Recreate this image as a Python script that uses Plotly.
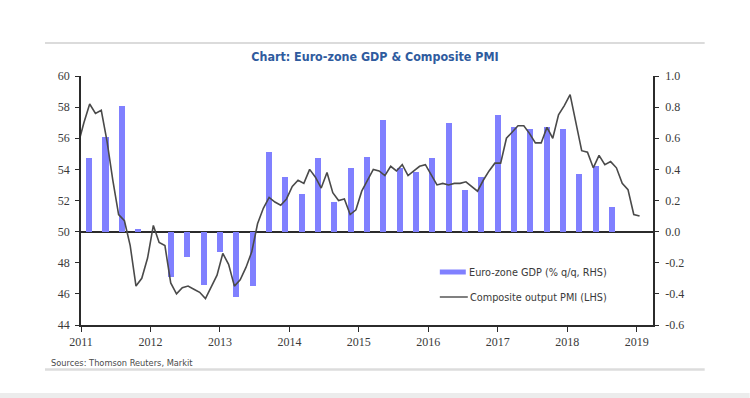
import plotly.graph_objects as go

# ---------------- data ----------------
# Composite output PMI (LHS), monthly, Dec 2010 .. Jan 2019
pmi_months = ["2010-12"] + [f"{y}-{m:02d}" for y in range(2011, 2019) for m in range(1, 13)] + ["2019-01"]
pmi_values = [55.6,
              57.0, 58.2, 57.6, 57.8, 55.8, 53.3, 51.1, 50.7, 49.1, 46.5, 47.0, 48.3,   # 2011
              50.4, 49.3, 49.1, 46.7, 46.0, 46.4, 46.5, 46.3, 46.1, 45.7, 46.5, 47.2,   # 2012
              48.6, 47.9, 46.5, 46.9, 47.7, 48.7, 50.5, 51.5, 52.2, 51.9, 51.7, 52.1,   # 2013
              52.9, 53.3, 53.1, 54.0, 53.5, 52.8, 53.8, 52.5, 52.0, 52.1, 51.1, 51.4,   # 2014
              52.6, 53.3, 54.0, 53.9, 53.6, 54.2, 53.9, 54.3, 53.6, 53.9, 54.2, 54.3,   # 2015
              53.6, 53.0, 53.1, 53.0, 53.1, 53.1, 53.2, 52.9, 52.6, 53.3, 53.9, 54.4,   # 2016
              54.4, 56.0, 56.4, 56.8, 56.8, 56.3, 55.7, 55.7, 56.7, 56.0, 57.5, 58.1,   # 2017
              58.8, 57.1, 55.2, 55.1, 54.1, 54.9, 54.3, 54.5, 54.1, 53.1, 52.7, 51.1,   # 2018
              51.0]                                                                      # 2019

# Euro-zone GDP (% q/q, RHS), one bar per category on the chart's bar axis
gdp_categories = [f"C{i+1}" for i in range(33)]
gdp_values = [0.47, 0.61, 0.81, 0.02, 0.0, -0.29, -0.16, -0.34, -0.13, -0.42, -0.35,
              0.51, 0.35, 0.24, 0.47, 0.19, 0.41, 0.48, 0.72, 0.41, 0.38, 0.47,
              0.70, 0.27, 0.35, 0.75, 0.67, 0.66, 0.67, 0.66, 0.37, 0.42, 0.16]
n_bar_slots = 35

year_ticks = list(range(2011, 2020))
pmi_ticks = list(range(44, 61, 2))
gdp_ticks = [-0.6, -0.4, -0.2, 0.0, 0.2, 0.4, 0.6, 0.8, 1.0]

title_text = "Chart: Euro-zone GDP &amp; Composite PMI"
source_text = "Sources: Thomson Reuters, Markit"
legend_gdp = "Euro-zone GDP (% q/q, RHS)"
legend_pmi = "Composite output PMI (LHS)"

# ---------------- helpers ----------------
def month_pos(s):
    y, m = s.split("-")
    return int(y) + (int(m) - 0.5) / 12.0

pmi_x = [month_pos(s) for s in pmi_months]

BAR_COLOR = "#8080FF"
LINE_COLOR = "#4a4a4a"
AXIS_COLOR = "#2b2b2b"
TICK_FONT = dict(family="Liberation Serif, DejaVu Serif, serif", size=12, color="#3a3a3a")
SANS_COND = "DejaVu Sans Condensed, Liberation Sans Narrow, sans-serif"

fig = go.Figure()

fig.add_trace(go.Bar(
    x=gdp_categories, y=gdp_values, xaxis="x", yaxis="y",
    marker=dict(color=BAR_COLOR, line=dict(width=0)),
    width=0.37, name=legend_gdp, showlegend=False,
))

fig.add_trace(go.Scatter(
    x=pmi_x, y=pmi_values, xaxis="x2", yaxis="y2", mode="lines",
    line=dict(color=LINE_COLOR, width=1.6), name=legend_pmi, showlegend=False,
))

# plot-area geometry (pixels)
W, H = 750, 398
L, R, T, B = 81, 96.7, 76, 73
pw, ph = W - L - R, H - T - B

def px(xp):
    return (xp - L) / pw

def py(yp):
    return (H - B - yp) / ph

fig.update_layout(
    width=W, height=H,
    margin=dict(l=L, r=R, t=T, b=B, pad=0),
    paper_bgcolor="white", plot_bgcolor="rgba(0,0,0,0)",
    showlegend=False,
    bargap=0,
    title=dict(text=f"<b>{title_text}</b>", x=0.5, xanchor="center",
               y=1 - 57 / H, yanchor="middle", xref="container", yref="container",
               font=dict(family=SANS_COND, size=12.4, color="#2f5b9e")),
    xaxis=dict(type="category", range=[-0.5, n_bar_slots - 0.5], visible=False,
               showgrid=False, zeroline=False, fixedrange=True),
    yaxis=dict(side="right", range=[-0.6, 1.0], tickvals=gdp_ticks,
               ticktext=[f"{v:.1f}" for v in gdp_ticks],
               showgrid=False, zeroline=True, zerolinecolor=AXIS_COLOR, zerolinewidth=2,
               showline=True, linecolor=AXIS_COLOR, linewidth=1.5,
               ticks="outside", ticklen=4, tickwidth=1.3, tickcolor=AXIS_COLOR,
               tickfont=TICK_FONT, ticklabelstandoff=4),
    xaxis2=dict(overlaying="x", anchor="y2", side="bottom",
                range=[2011, 2019.235],
                tickvals=year_ticks, ticktext=[str(y) for y in year_ticks],
                showgrid=False, zeroline=False,
                showline=True, linecolor=AXIS_COLOR, linewidth=1.5,
                ticks="outside", ticklen=5, tickwidth=1.3, tickcolor=AXIS_COLOR,
                tickfont=TICK_FONT),
    yaxis2=dict(overlaying="y", anchor="x2", side="left", range=[44, 60],
                tickvals=pmi_ticks, ticktext=[str(v) for v in pmi_ticks],
                showgrid=False, zeroline=False,
                showline=True, linecolor=AXIS_COLOR, linewidth=1.5,
                ticks="outside", ticklen=4, tickwidth=1.3, tickcolor=AXIS_COLOR,
                tickfont=TICK_FONT, ticklabelstandoff=3),
)

# decorative frame lines (paper coords)
shapes = [
    dict(type="line", xref="paper", yref="paper", x0=px(45), x1=px(705), y0=py(43), y1=py(43),
         line=dict(color="#cfcfcf", width=1.5)),
    dict(type="line", xref="paper", yref="paper", x0=px(45), x1=px(705), y0=py(369.5), y1=py(369.5),
         line=dict(color="#dcdcdc", width=2.5)),
    dict(type="rect", xref="paper", yref="paper", x0=px(0), x1=px(750), y0=py(393), y1=py(398),
         fillcolor="#ececec", line=dict(width=0)),
    # legend swatches
    dict(type="rect", xref="paper", yref="paper", x0=px(440), x1=px(466), y0=py(274.5), y1=py(269.5),
         fillcolor=BAR_COLOR, line=dict(width=0)),
    dict(type="line", xref="paper", yref="paper", x0=px(440), x1=px(468), y0=py(297), y1=py(297),
         line=dict(color=LINE_COLOR, width=1.4)),
]
fig.update_layout(shapes=shapes)

legend_font = dict(family=SANS_COND, size=10.8, color="#3a3a3a")
fig.add_annotation(x=px(467), y=py(272), xref="paper", yref="paper", text=legend_gdp,
                   showarrow=False, xanchor="left", yanchor="middle", font=legend_font)
fig.add_annotation(x=px(468), y=py(297), xref="paper", yref="paper", text=legend_pmi,
                   showarrow=False, xanchor="left", yanchor="middle", font=legend_font)
fig.add_annotation(x=px(49), y=py(362.5), xref="paper", yref="paper", text=source_text,
                   showarrow=False, xanchor="left", yanchor="middle",
                   font=dict(family=SANS_COND, size=9.2, color="#4a4a4a"))

fig.write_html("out.html", config={"displayModeBar": False},
               post_script="document.body.style.margin='0';")
